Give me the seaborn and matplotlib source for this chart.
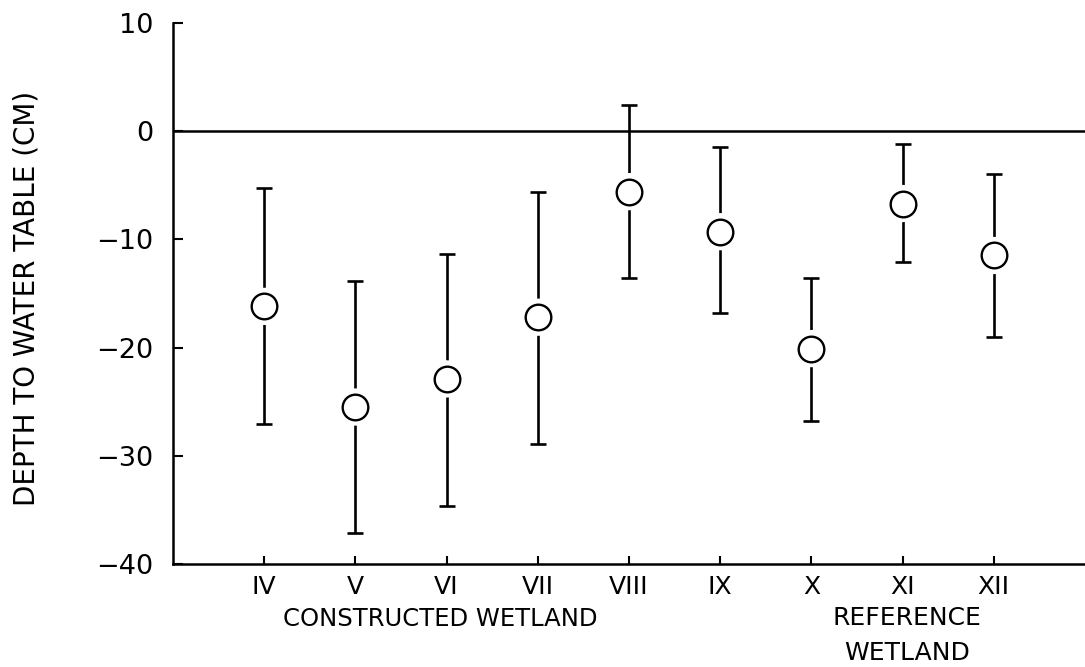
import matplotlib
matplotlib.use("Agg")
import matplotlib.pyplot as plt
import matplotlib.transforms as mtransforms
import seaborn as sns
import pandas as pd

# ---- data ----
sites = ["IV", "V", "VI", "VII", "VIII", "IX", "X", "XI", "XII"]
mean_depth = [-16.2, -25.5, -22.9, -17.2, -5.6, -9.3, -20.1, -6.7, -11.5]
upper_depth = [-5.3, -13.9, -11.4, -5.6, 2.4, -1.5, -13.6, -1.2, -4.0]
lower_depth = [-27.1, -37.1, -34.6, -28.9, -13.6, -16.8, -26.8, -12.1, -19.0]
y_ticks = [10, 0, -10, -20, -30, -40]
group_labels = ["CONSTRUCTED WETLAND", "REFERENCE\nWETLAND"]

df = pd.DataFrame({"site": sites, "mean": mean_depth,
                   "lo": lower_depth, "hi": upper_depth})

sns.set_theme(style="ticks")
plt.rcParams["font.family"] = ["DejaVu Sans"]
plt.rcParams["text.color"] = "black"

fig = plt.figure(figsize=(10.85, 6.67), dpi=100)
ax = fig.add_axes([0.1594, 0.1544, 0.8406, 0.8115])

# zero line
ax.axhline(0, color="black", lw=1.8, zorder=1)

# error bars
yerr = [df["mean"] - df["lo"], df["hi"] - df["mean"]]
ax.errorbar(df["site"], df["mean"], yerr=yerr, fmt="none", ecolor="black",
            elinewidth=1.9, capsize=5.5, capthick=1.9, zorder=2)

# white halo to create gap between bar and circle
sns.scatterplot(data=df, x="site", y="mean", ax=ax, s=720, color="white",
                edgecolor="none", linewidth=0, zorder=3, legend=False)
# open circles
sns.scatterplot(data=df, x="site", y="mean", ax=ax, s=340, facecolor="white",
                edgecolor="black", linewidth=1.7, zorder=4, legend=False)

ax.set_ylim(-40, 10)
ax.set_xlim(-1, 9)
ax.set_yticks(y_ticks)
ax.set_yticklabels([str(t).replace("-", "\u2212") for t in y_ticks])
ax.set_xticks(range(len(sites)))
ax.set_xticklabels(sites)

for side in ["top", "right"]:
    ax.spines[side].set_visible(False)
for side in ["left", "bottom"]:
    ax.spines[side].set_linewidth(1.8)
    ax.spines[side].set_color("black")

ax.tick_params(axis="y", direction="in", length=7, width=1.5, pad=14,
               labelsize=19.5, colors="black")
ax.tick_params(axis="x", direction="in", length=6, width=1.5, pad=8,
               labelsize=18, colors="black")

ax.set_xlabel("")
ax.set_ylabel("")
fig.text(27 / 1085, 1 - 298 / 667, "DEPTH TO WATER TABLE (CM)",
         rotation=90, ha="center", va="center", fontsize=20, color="black")

trans = mtransforms.blended_transform_factory(ax.transData, ax.transAxes)
ax.text(1.93, -0.102, group_labels[0], transform=trans, ha="center",
        va="center", fontsize=17.5, color="black")
ax.text(7.05, -0.078, group_labels[1], transform=trans, ha="center",
        va="top", fontsize=18, linespacing=1.55, color="black")

fig.savefig("out.png", dpi=100)
